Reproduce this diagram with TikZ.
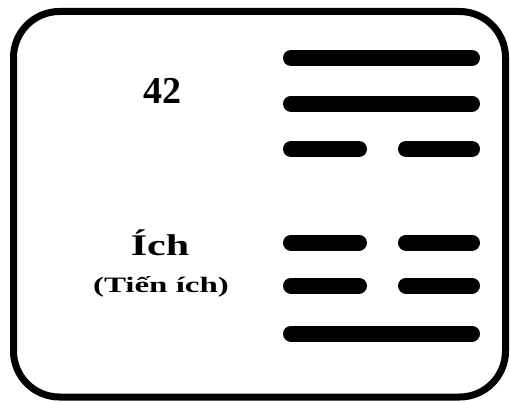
\documentclass[tikz,border=0pt]{standalone}
\usepackage{fontspec}
\setmainfont{Liberation Serif}
\begin{document}
\begin{tikzpicture}[x=1pt, y=-1pt, line cap=round,
    yao/.style={line width=16pt},
    frame/.style={line width=7pt, rounded corners=46pt}]
    \useasboundingbox (0,0) rectangle (510,401);
    \draw[frame] (13.5,11.5) rectangle (505.5,397);

    \coordinate (L) at (291,0);
    \coordinate (R) at (472,0);
    \coordinate (ML) at (359,0);
    \coordinate (MR) at (406,0);

    % solid lines
    \foreach \y in {58, 103.5, 333.5}
        \draw[yao] (L |- 0,\y) -- (R |- 0,\y);
    % broken lines
    \foreach \y in {149, 242.5, 285.5} {
        \draw[yao] (L |- 0,\y) -- (ML |- 0,\y);
        \draw[yao] (MR |- 0,\y) -- (R |- 0,\y);
    }

    \node[font=\bfseries\fontsize{38}{38}\selectfont, inner sep=0pt] (num) at (162,91) {42};
    \node[font=\bfseries\fontsize{30}{30}\selectfont, inner sep=0pt, xscale=1.4, anchor=base] (name) at (160,255) {Ích};
    \node[font=\bfseries\fontsize{22}{22}\selectfont, inner sep=0pt, xscale=1.5, anchor=base] (alt) at (161,292) {(Tiến ích)};
\end{tikzpicture}
\end{document}
